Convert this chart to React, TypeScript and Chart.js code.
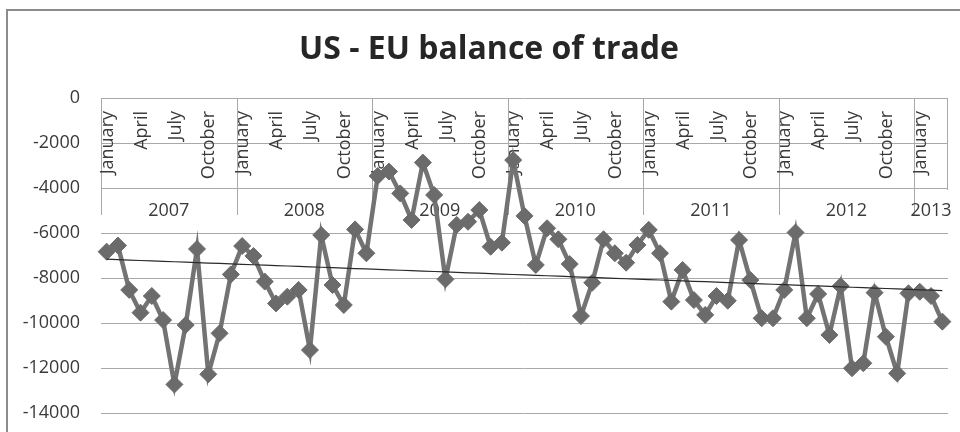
import React, { useEffect, useRef } from "react";
import { Chart, registerables } from "chart.js";

Chart.register(...registerables);

const titleText = "US - EU balance of trade";
const years = ["2007", "2008", "2009", "2010", "2011", "2012", "2013"];
const monthNames = [
  "January", "February", "March", "April", "May", "June",
  "July", "August", "September", "October", "November", "December",
];
const shownMonths = ["January", "April", "July", "October"];
const yTicks = [0, -2000, -4000, -6000, -8000, -10000, -12000, -14000];

const v2007 = [-6830, -6560, -8530, -9540, -8800, -9870, -12730, -10090, -6710, -12280, -10460, -7840];
const v2008 = [-6580, -7020, -8160, -9130, -8830, -8530, -11200, -6090, -8310, -9200, -5840, -6900];
const v2009 = [-3470, -3270, -4240, -5420, -2870, -4310, -8060, -5640, -5500, -4980, -6610, -6430];
const v2010 = [-2760, -5240, -7420, -5790, -6280, -7380, -9690, -8210, -6280, -6900, -7320, -6530];
const v2011 = [-5860, -6900, -9050, -7640, -8980, -9640, -8800, -9010, -6310, -8090, -9790, -9790];
const v2012 = [-8530, -5980, -9790, -8710, -10530, -8360, -12010, -11790, -8650, -10610, -12240, -8680];
const v2013 = [-8610, -8800, -9940];

const yearValues = [v2007, v2008, v2009, v2010, v2011, v2012, v2013];

const balance: number[] = [];
const categories: string[] = [];
const catMonth: number[] = [];
yearValues.forEach((arr, yi) => {
  arr.forEach((v, mi) => {
    balance.push(v);
    categories.push(monthNames[mi] + " " + years[yi]);
    catMonth.push(mi);
  });
});

// linear trend (least squares) from the data
const n = balance.length;
const xsIdx = balance.map((_, i) => i + 1);
const mx = xsIdx.reduce((a, b) => a + b, 0) / n;
const my = balance.reduce((a, b) => a + b, 0) / n;
let sxy = 0, sxx = 0;
for (let i = 0; i < n; i++) {
  sxy += (xsIdx[i] - mx) * (balance[i] - my);
  sxx += (xsIdx[i] - mx) * (xsIdx[i] - mx);
}
const slope = sxy / sxx;
const intercept = my - slope * mx;
const trend = xsIdx.map((x) => intercept + slope * x);

const FONT = "'Open Sans', 'DejaVu Sans', sans-serif";
const TEXT = "#3a3a3a";
const GRID = "#a9a9a9";

const categoryAxisPlugin = {
  id: "categoryAxis",
  beforeDatasetsDraw(chart: any) {
    const { ctx, chartArea } = chart;
    const xs = chart.scales.x;
    const ys = chart.scales.y;
    const yTop = ys.getPixelForValue(0);
    const catW = (chartArea.right - chartArea.left) / categories.length;
    ctx.save();
    ctx.strokeStyle = GRID;
    ctx.lineWidth = 1;
    let start = 0;
    years.forEach((yr, yi) => {
      const count = yearValues[yi].length;
      const x0 = Math.round(chartArea.left + start * catW) + 0.5;
      ctx.beginPath();
      ctx.moveTo(x0, yTop);
      ctx.lineTo(x0, yTop + 117);
      ctx.stroke();
      const xc = chartArea.left + (start + count / 2) * catW;
      ctx.fillStyle = TEXT;
      ctx.font = `18px ${FONT}`;
      ctx.textAlign = "center";
      ctx.textBaseline = "middle";
      ctx.fillText(yr, xc, yTop + 113);
      start += count;
    });
    const xr = Math.round(chartArea.right) - 0.5;
    ctx.beginPath();
    ctx.moveTo(xr, yTop);
    ctx.lineTo(xr, yTop + 92);
    ctx.stroke();
    ctx.font = `18px ${FONT}`;
    ctx.fillStyle = TEXT;
    ctx.textAlign = "right";
    ctx.textBaseline = "middle";
    for (let i = 0; i < categories.length; i++) {
      const name = monthNames[catMonth[i]];
      if (shownMonths.indexOf(name) < 0) continue;
      const x = xs.getPixelForValue(i) + 1;
      ctx.save();
      ctx.translate(x, yTop + 13);
      ctx.rotate(-Math.PI / 2);
      ctx.fillText(name, 0, 0);
      ctx.restore();
    }
    ctx.restore();
  },
  afterDraw(chart: any) {
    const { ctx } = chart;
    ctx.save();
    ctx.font = `bold 32px ${FONT}`;
    ctx.fillStyle = "#262626";
    ctx.textAlign = "center";
    ctx.textBaseline = "alphabetic";
    ctx.fillText(titleText, 481, 48);
    ctx.restore();
  },
};

export default function App() {
  const ref = useRef<HTMLCanvasElement | null>(null);
  useEffect(() => {
    if (!ref.current) return;
    const chart = new Chart(ref.current, {
      type: "line",
      data: {
        labels: categories,
        datasets: [
          {
            label: "Trend",
            data: trend,
            borderColor: "#2a2a2a",
            borderWidth: 1.2,
            pointRadius: 0,
            fill: false,
            tension: 0,
            order: 0,
          },
          {
            label: "Balance",
            data: balance,
            borderColor: "#737373",
            borderWidth: 4.5,
            pointStyle: "rectRot",
            pointRadius: 8.5,
            pointBackgroundColor: "#6b6b6b",
            pointBorderColor: "#6b6b6b",
            pointBorderWidth: 1,
            fill: false,
            tension: 0,
            order: 1,
          },
        ],
      },
      options: {
        responsive: false,
        animation: false,
        layout: { padding: { top: 87, bottom: 38, left: 0, right: 60 } },
        plugins: {
          legend: { display: false },
          title: { display: false },
          tooltip: { enabled: false },
        },
        scales: {
          x: {
            type: "category",
            offset: true,
            display: false,
          },
          y: {
            min: -14000,
            max: 0,
            afterBuildTicks: (scale: any) => {
              scale.ticks = yTicks.map((v) => ({ value: v }));
            },
            afterFit: (scale: any) => {
              scale.width = 93;
            },
            border: { display: false },
            grid: { color: GRID, lineWidth: 1, drawTicks: false },
            ticks: {
              padding: 21,
              color: TEXT,
              font: { family: FONT, size: 18 },
              callback: (v: any) => String(v),
            },
          },
        },
      },
      plugins: [categoryAxisPlugin],
    });
    return () => chart.destroy();
  }, []);
  return (
    <div
      style={{
        position: "fixed",
        left: 6,
        top: 9,
        width: 1000,
        height: 440,
        border: "2px solid #8c8c8c",
        background: "#fff",
      }}
    >
      <canvas ref={ref} width={1000} height={440} style={{ display: "block" }} />
    </div>
  );
}
